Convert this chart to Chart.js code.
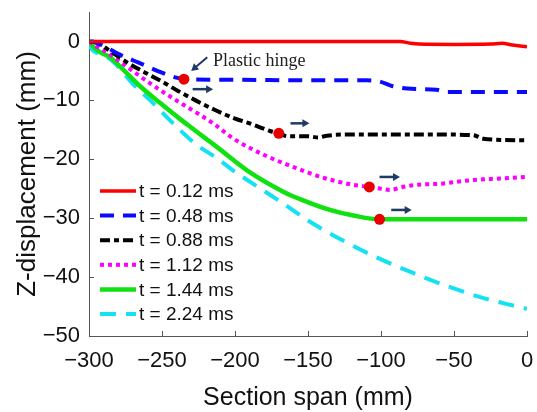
<!DOCTYPE html>
<html>
<head>
<meta charset="utf-8">
<script src="https://cdn.jsdelivr.net/npm/chart.js@4.4.0/dist/chart.umd.min.js"></script>
<style>
    body { margin: 0; background: #fff; }
    #wrap { width: 537px; height: 412px; }
</style>
</head>
<body>
<div id="wrap"><canvas id="spanChart" width="537" height="412"></canvas></div>
<script>
// Podaci očitani s grafa: [x (mm), z (mm)]
const t012 = [[-300,0],[-200,0],[-120,0],[-87,0],[-80,-0.3],[-74,-0.45],[-50,-0.5],[-25,-0.45],[-17,-0.3],[-10,-0.6],[0,-0.9]];
const t048 = [[-300,0],[-296,-0.1],[-288,-1.0],[-280,-2.1],[-266,-3.6],[-251,-5.2],[-241,-6.1],[-235,-6.4],[-200,-6.5],[-150,-6.6],[-110,-6.6],[-101,-6.8],[-92,-7.6],[-82,-8.0],[-62,-8.2],[-55,-8.6],[-30,-8.6],[0,-8.6]];
const t088 = [[-298,0],[-294,-0.3],[-284.5,-1.8],[-273,-3.7],[-261.5,-5.3],[-250,-6.8],[-239,-8.4],[-227,-10.0],[-214,-11.6],[-200,-13.1],[-190,-13.9],[-176,-15.2],[-170,-15.6],[-164,-16.1],[-150,-16.1],[-143,-16.3],[-137,-16.0],[-125,-15.8],[-100,-15.8],[-60,-15.8],[-37,-15.9],[-30,-16.5],[0,-16.8]];
const t112 = [[-300,0],[-296,-0.7],[-287,-2.0],[-280,-3.2],[-268.5,-5.3],[-257,-7.3],[-246,-9.1],[-235,-10.8],[-223,-12.6],[-215,-13.9],[-201,-16.5],[-178,-19.5],[-158,-21.5],[-140,-23.1],[-120,-24.3],[-108,-24.7],[-100,-25.0],[-94,-25.2],[-85,-24.7],[-78,-24.4],[-57,-24.1],[-44,-23.7],[-30,-23.4],[-21,-23.3],[0,-23.0]];
const t144 = [[-300,0],[-299,-0.4],[-292.5,-1.8],[-285.5,-2.7],[-279,-4.2],[-265,-7.6],[-251,-10.5],[-238,-13.1],[-229,-14.8],[-220,-16.5],[-212.5,-17.9],[-190,-22.2],[-167,-25.5],[-155,-26.8],[-135,-28.6],[-118,-29.6],[-101,-30.2],[-80,-30.2],[0,-30.2]];
const t224 = [[-300,0],[-299,-1.0],[-291,-2.2],[-283.5,-3.4],[-270,-7.2],[-256,-10.5],[-242,-14.0],[-227,-17.4],[-212.5,-19.8],[-199,-22.3],[-183,-24.9],[-167,-27.5],[-150,-30.4],[-123,-34.2],[-100,-37.0],[-78,-39.3],[-55,-41.5],[-32,-43.4],[-15,-44.5],[0,-45.4]];

const seriesLabels = ['t = 0.12 ms', 't = 0.48 ms', 't = 0.88 ms', 't = 1.12 ms', 't = 1.44 ms', 't = 2.24 ms'];

// Plastični zglobovi (crvene točke)
const hingePoints = [[-235,-6.4],[-170,-15.6],[-108,-24.7],[-101,-30.2]];
// Strelice: [x početak, y, x kraj]
const arrowSegs = [[-229,-8.1,-215],[-162,-13.9,-149],[-101,-23.0,-87],[-93,-28.6,-79]];
const xTickValues = [-300, -250, -200, -150, -100, -50, 0];
const yTickValues = [-50, -40, -30, -20, -10, 0];

function toXY(arr) {
    return arr.map(p => ({ x: p[0], y: p[1] }));
}

function minusSign(v) {
    return String(v).replace('-', '\u2212');
}

const styles = [
    { color: '#ff0000', width: 3.5, dash: [] },
    { color: '#0a0aff', width: 4, dash: [14, 9] },
    { color: '#000000', width: 4, dash: [10, 4, 5, 4] },
    { color: '#ff00ff', width: 4, dash: [4, 4] },
    { color: '#11e011', width: 4.5, dash: [] },
    { color: '#14e2f2', width: 4, dash: [16, 10] }
];

const allSeries = [t012, t048, t088, t112, t144, t224];

const datasets = allSeries.map((s, i) => ({
    label: seriesLabels[i],
    data: toXY(s),
    borderColor: styles[i].color,
    borderWidth: styles[i].width,
    borderDash: styles[i].dash,
    borderCapStyle: 'butt',
    pointRadius: 0,
    fill: false,
    cubicInterpolationMode: 'monotone',
    showLine: true
}));

datasets.push({
    label: 'hinge',
    data: toXY(hingePoints),
    showLine: false,
    pointRadius: 5.5,
    pointBackgroundColor: '#e60000',
    pointBorderWidth: 0,
    order: -1
});

// Ticks prema unutra + legenda + oznake
const extrasPlugin = {
    id: 'extras',
    afterDraw(chart) {
        const ctx = chart.ctx;
        const xs = chart.scales.x;
        const ys = chart.scales.y;
        const area = chart.chartArea;

        ctx.save();
        ctx.strokeStyle = '#555';
        ctx.lineWidth = 1;
        xTickValues.forEach(v => {
            const px = Math.round(xs.getPixelForValue(v)) + 0.5;
            ctx.beginPath();
            ctx.moveTo(px, area.bottom);
            ctx.lineTo(px, area.bottom - 5);
            ctx.stroke();
        });
        yTickValues.forEach(v => {
            const py = Math.round(ys.getPixelForValue(v)) + 0.5;
            ctx.beginPath();
            ctx.moveTo(area.left, py);
            ctx.lineTo(area.left + 5, py);
            ctx.stroke();
        });

        // Legenda
        ctx.font = '19px "Liberation Sans", Arial, sans-serif';
        ctx.textBaseline = 'middle';
        ctx.textAlign = 'left';
        const lx = area.left + 11;
        seriesLabels.forEach((lab, i) => {
            const ly = 191 + i * 24.6;
            ctx.strokeStyle = styles[i].color;
            ctx.lineWidth = styles[i].width;
            ctx.setLineDash(styles[i].dash);
            ctx.lineCap = 'butt';
            ctx.beginPath();
            ctx.moveTo(lx, ly);
            ctx.lineTo(lx + 36, ly);
            ctx.stroke();
            ctx.setLineDash([]);
            ctx.fillStyle = '#111';
            ctx.fillText(lab, lx + 39, ly + 1);
        });

        // Strelice
        ctx.strokeStyle = '#1f3a64';
        ctx.fillStyle = '#1f3a64';
        ctx.lineWidth = 2.5;
        arrowSegs.forEach(a => {
            const x0 = xs.getPixelForValue(a[0]);
            const x1 = xs.getPixelForValue(a[2]);
            const y0 = ys.getPixelForValue(a[1]);
            ctx.beginPath();
            ctx.moveTo(x0, y0);
            ctx.lineTo(x1 - 5, y0);
            ctx.stroke();
            ctx.beginPath();
            ctx.moveTo(x1, y0);
            ctx.lineTo(x1 - 7, y0 - 4);
            ctx.lineTo(x1 - 7, y0 + 4);
            ctx.closePath();
            ctx.fill();
        });

        // "Plastic hinge" oznaka
        const ax0 = xs.getPixelForValue(-219);
        const ay0 = ys.getPixelForValue(-2.7);
        const ax1 = xs.getPixelForValue(-230);
        const ay1 = ys.getPixelForValue(-5.0);
        const ang = Math.atan2(ay1 - ay0, ax1 - ax0);
        ctx.lineWidth = 2;
        ctx.beginPath();
        ctx.moveTo(ax0, ay0);
        ctx.lineTo(ax1 - 4 * Math.cos(ang), ay1 - 4 * Math.sin(ang));
        ctx.stroke();
        ctx.beginPath();
        ctx.moveTo(ax1, ay1);
        ctx.lineTo(ax1 - 7 * Math.cos(ang) + 4 * Math.sin(ang), ay1 - 7 * Math.sin(ang) - 4 * Math.cos(ang));
        ctx.lineTo(ax1 - 7 * Math.cos(ang) - 4 * Math.sin(ang), ay1 - 7 * Math.sin(ang) + 4 * Math.cos(ang));
        ctx.closePath();
        ctx.fill();

        ctx.font = '18px "Liberation Serif", "Times New Roman", serif';
        ctx.fillStyle = '#222';
        ctx.fillText('Plastic hinge', xs.getPixelForValue(-215), ys.getPixelForValue(-3.4));
        ctx.restore();
    }
};

const tickFont = { family: '"Liberation Sans", Arial, sans-serif', size: 22 };
const titleFont = { family: '"Liberation Sans", Arial, sans-serif', size: 25, lineHeight: 1 };

new Chart(document.getElementById('spanChart'), {
    type: 'scatter',
    data: { datasets: datasets },
    options: {
        responsive: false,
        devicePixelRatio: 1,
        animation: false,
        layout: { padding: { top: 12, right: 10, left: 0, bottom: 0 } },
        plugins: {
            legend: { display: false },
            tooltip: { enabled: false }
        },
        scales: {
            x: {
                type: 'linear',
                min: -300,
                max: 0,
                afterFit: s => {
                    s.height = 76;
                    s.paddingLeft = 0;
                    s.paddingRight = 0;
                },
                afterBuildTicks: s => { s.ticks = xTickValues.map(v => ({ value: v })); },
                grid: { display: true, drawOnChartArea: false, drawTicks: false },
                border: { display: true, color: '#555', width: 1 },
                ticks: {
                    font: tickFont,
                    color: '#111',
                    padding: 12,
                    maxRotation: 0,
                    callback: v => minusSign(v)
                },
                title: {
                    display: true,
                    text: 'Section span (mm)',
                    font: titleFont,
                    color: '#111',
                    padding: { top: 0, bottom: 1 }
                }
            },
            y: {
                type: 'linear',
                min: -50,
                max: 5,
                afterFit: s => {
                    s.width = 89;
                    s.paddingTop = 0;
                    s.paddingBottom = 0;
                },
                afterBuildTicks: s => { s.ticks = yTickValues.map(v => ({ value: v })); },
                grid: { display: true, drawOnChartArea: false, drawTicks: false },
                border: { display: true, color: '#555', width: 1 },
                ticks: {
                    font: tickFont,
                    color: '#111',
                    padding: 9,
                    callback: v => minusSign(v)
                },
                title: {
                    display: true,
                    text: 'Z-displacement (mm)',
                    font: { family: '"Liberation Sans", Arial, sans-serif', size: 26, lineHeight: 1 },
                    color: '#111',
                    padding: { top: 15, bottom: 0 }
                }
            }
        }
    },
    plugins: [extrasPlugin]
});
</script>
</body>
</html>
